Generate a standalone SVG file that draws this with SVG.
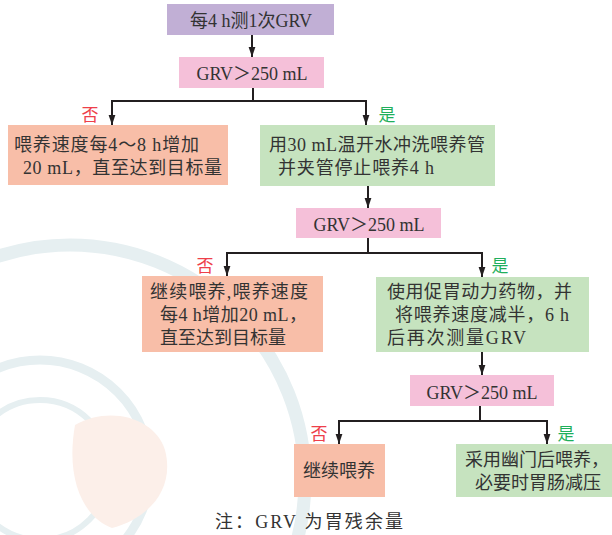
<svg xmlns="http://www.w3.org/2000/svg" width="612" height="535" viewBox="0 0 612 535">
<defs>
<style>
.t{font-family:"Liberation Serif","Noto Sans CJK SC",serif;font-size:18px;fill:#333333}
.c{text-anchor:middle}
.no{font-family:"Noto Sans CJK SC",sans-serif;font-size:17px;fill:#ee3f4a;text-anchor:middle}
.yes{font-family:"Noto Sans CJK SC",sans-serif;font-size:17px;fill:#1faf5c;text-anchor:middle}
.ln{fill:none;stroke:#231f20;stroke-width:2}
.ar{marker-end:url(#ah)}
.purple{fill:#c1afd5}
.pink{fill:#f5c0d9}
.orange{fill:#f8bea8}
.green{fill:#c6e3bf}
.wm{fill:none;stroke:#e6eff1}
</style>
<marker id="ah" viewBox="0 0 10 8" refX="10" refY="4" markerWidth="10" markerHeight="8" markerUnits="userSpaceOnUse" orient="auto">
<path d="M0,0.6 L10,4 L0,7.4 z" fill="#231f20"/>
</marker>
</defs>
<rect width="612" height="535" fill="#ffffff"/>
<g id="watermark">
<circle class="wm" cx="70" cy="480" r="235" stroke-width="13"/>
<circle class="wm" cx="40" cy="470" r="110" stroke-width="9"/>
<circle class="wm" cx="40" cy="470" r="70" stroke-width="6"/>
<path d="M75,425 C110,405 155,418 165,450 C175,488 150,518 112,528 C85,518 65,482 75,425 z" fill="#fcefe9"/>
</g>
<g id="connectors">
<path class="ln ar" d="M252,35 V57"/>
<path class="ln" d="M253,88 V101"/>
<path class="ln ar" d="M253,101 H112 V125"/>
<path class="ln ar" d="M253,101 H366 V125"/>
<path class="ln ar" d="M368,186 V208"/>
<path class="ln" d="M368,238 V253"/>
<path class="ln ar" d="M368,253 H227 V276"/>
<path class="ln ar" d="M368,253 H482 V277"/>
<path class="ln ar" d="M482,352 V375"/>
<path class="ln" d="M480,406 V421"/>
<path class="ln ar" d="M480,421 H339 V444"/>
<path class="ln ar" d="M480,421 H547 V444"/>
<text class="no" x="90" y="121">否</text>
<text class="yes" x="387" y="121">是</text>
<text class="no" x="205" y="272">否</text>
<text class="yes" x="500" y="272">是</text>
<text class="no" x="319" y="440">否</text>
<text class="yes" x="566" y="440">是</text>
</g>
<g id="n1">
<rect class="purple" x="167" y="4" width="167" height="31"/>
<text class="t c" x="251" y="27">每4 h测1次GRV</text>
</g>
<g id="n2">
<rect class="pink" x="179" y="57" width="145" height="31"/>
<text class="t c" x="252" y="80">GRV＞250 mL</text>
</g>
<g id="n3">
<rect class="orange" x="8" y="125" width="220" height="60"/>
<text class="t" x="14" y="151" textLength="185">喂养速度每4～8 h增加</text>
<text class="t" x="23" y="174" textLength="199">20 mL，直至达到目标量</text>
</g>
<g id="n4">
<rect class="green" x="260" y="125" width="235" height="61"/>
<text class="t" x="269" y="151" textLength="216">用30 mL温开水冲洗喂养管</text>
<text class="t" x="278" y="174" textLength="156">并夹管停止喂养4 h</text>
</g>
<g id="n5">
<rect class="pink" x="296" y="208" width="145" height="30"/>
<text class="t c" x="369" y="231">GRV＞250 mL</text>
</g>
<g id="n6">
<rect class="orange" x="142" y="276" width="181" height="76"/>
<text class="t" x="150" y="298" textLength="158">继续喂养,喂养速度</text>
<text class="t" x="160" y="321" textLength="147">每4 h增加20 mL，</text>
<text class="t" x="160" y="344">直至达到目标量</text>
</g>
<g id="n7">
<rect class="green" x="376" y="277" width="213" height="75"/>
<text class="t" x="387" y="298" textLength="185">使用促胃动力药物，并</text>
<text class="t" x="395" y="321" textLength="174">将喂养速度减半，6 h</text>
<text class="t" x="387" y="344" textLength="139">后再次测量GRV</text>
</g>
<g id="n8">
<rect class="pink" x="410" y="375" width="144" height="31"/>
<text class="t c" x="482" y="399">GRV＞250 mL</text>
</g>
<g id="n9">
<rect class="orange" x="294" y="444" width="91" height="53"/>
<text class="t c" x="339" y="477">继续喂养</text>
</g>
<g id="n10">
<rect class="green" x="456" y="444" width="156" height="53"/>
<text class="t" x="465" y="466">采用幽门后喂养，</text>
<text class="t" x="475" y="489">必要时胃肠减压</text>
</g>
<g id="note">
<text class="t" x="215" y="528" font-size="19" textLength="188">注：GRV 为胃残余量</text>
</g>
</svg>
